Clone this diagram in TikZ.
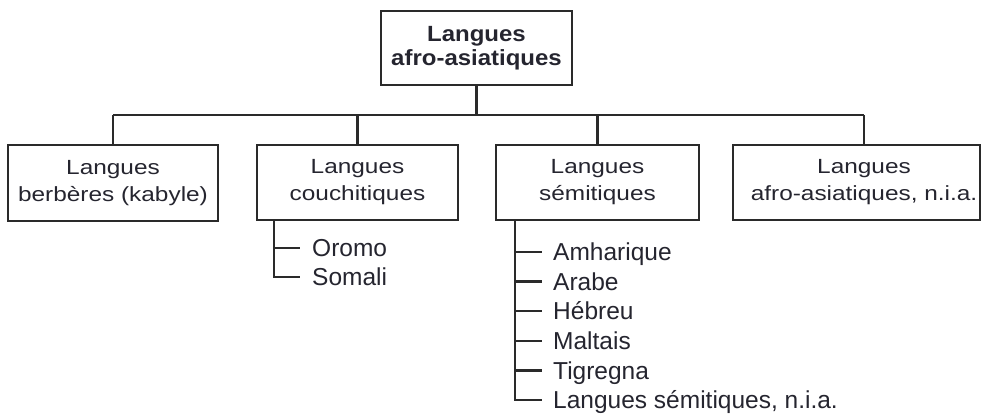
\documentclass[tikz,border=0pt]{standalone}
\usepackage{fontspec}
\setmainfont{Liberation Sans}
\newfontfamily\boxfont[FakeStretch=1.19]{Liberation Sans}
\newfontfamily\topfont[FakeStretch=1.09]{Liberation Sans}
\definecolor{ln}{HTML}{2A2A2A}
\definecolor{tx}{HTML}{25252F}
\begin{document}
\begin{tikzpicture}[x=1pt,y=-1pt,
  box/.style={draw=ln, line width=2.5pt, inner sep=0pt, minimum height=75pt,
    text=tx, align=center, font=\fontsize{20.5}{27}\boxfont},
  topbox/.style={box, font=\fontsize{22}{24}\topfont\bfseries},
  boxtext/.style={inner sep=0pt, text=tx, align=center, font=\fontsize{20.5}{27}\boxfont},
  leaf/.style={anchor=west, inner sep=0pt, text height=17.5pt, text depth=0pt,
    text=tx, font=\fontsize{24.5}{29.5}\selectfont},
  conn/.style={draw=ln, line width=2.5pt}]
\useasboundingbox (0,0) rectangle (981,418);

% boxes
\node[topbox, minimum width=191pt, minimum height=74pt] (top) at (476.5,48) {Langues\\afro-asiatiques};
\node[box, minimum width=210pt, minimum height=76pt] (b1) at (113,183) {Langues\\berbères (kabyle)};
\node[box, minimum width=201pt] (b2) at (357.5,182.5) {Langues\\couchitiques};
\node[box, minimum width=203pt] (b3) at (597.5,182.5) {Langues\\sémitiques};
\node[box, minimum width=247pt] (b4) at (856.5,182.5) {};
\node[boxtext] (t4) at (864,182.5) {Langues\\afro-asiatiques, n.i.a.};

% bus
\coordinate (bus) at (0,115);
\draw[conn] (top.south) -- (top.south |- bus);
\draw[conn] (b1.north |- bus) -- (t4 |- bus);
\draw[conn] (b1.north |- bus) -- (b1.north);
\draw[conn] (b2.north |- bus) -- (b2.north);
\draw[conn] (b3.north |- bus) -- (b3.north);
\draw[conn] (t4 |- bus) -- (t4 |- b4.north);

% couchitic leaves
\coordinate (cv) at (274,220);
\node[leaf] (o1) at (312,248) {Oromo};
\node[leaf] (o2) at (312,277) {Somali};
\draw[conn] (cv |- o1.west) -- ([xshift=-12pt]o1.west);
\draw[conn] (cv) |- ([xshift=-12pt]o2.west);

% semitic leaves
\coordinate (sv) at (515,220);
\node[leaf] (s1) at (553,252) {Amharique};
\node[leaf] (s2) at (553,281.6) {Arabe};
\node[leaf] (s3) at (553,311.2) {Hébreu};
\node[leaf] (s4) at (553,340.8) {Maltais};
\node[leaf] (s5) at (553,370.4) {Tigregna};
\node[leaf] (s6) at (553,400) {Langues sémitiques, n.i.a.};
\draw[conn] (sv |- s1.west) -- ([xshift=-11pt]s1.west);
\draw[conn] (sv |- s2.west) -- ([xshift=-11pt]s2.west);
\draw[conn] (sv |- s3.west) -- ([xshift=-11pt]s3.west);
\draw[conn] (sv |- s4.west) -- ([xshift=-11pt]s4.west);
\draw[conn] (sv |- s5.west) -- ([xshift=-11pt]s5.west);
\draw[conn] (sv) |- ([xshift=-11pt]s6.west);
\end{tikzpicture}
\end{document}
